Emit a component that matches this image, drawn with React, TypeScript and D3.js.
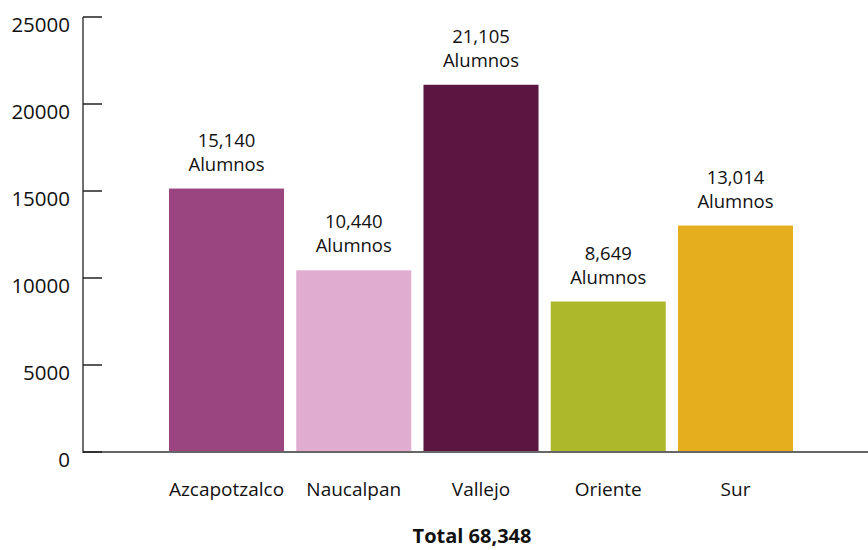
import React from "react";
import * as d3 from "d3";

const categories = ["Azcapotzalco", "Naucalpan", "Vallejo", "Oriente", "Sur"];
const values = [15140, 10440, 21105, 8649, 13014];
const colors = ["#9B4580", "#E0ADD0", "#5A1641", "#ADB92B", "#E4AE1E"];
const yTicks = [0, 5000, 10000, 15000, 20000, 25000];
const valueUnit = "Alumnos";
const totalLabel = "Total 68,348";

const W = 868;
const H = 550;
const FONT = "'Open Sans', 'Noto Sans', sans-serif";

export default function App() {
  const axisX = 83;
  const y = d3.scaleLinear().domain([0, 25000]).range([452, 17]);
  const x = d3
    .scaleBand<string>()
    .domain(categories)
    .range([169, 793])
    .paddingInner(0.096)
    .paddingOuter(0);
  const fmt = d3.format(",");

  return (
    <svg
      width={W}
      height={H}
      style={{ position: "absolute", left: 0, top: 0, background: "#fff" }}
      fontFamily={FONT}
    >
      {categories.map((c, i) => (
        <rect
          key={c}
          x={x(c)}
          y={y(values[i])}
          width={x.bandwidth()}
          height={y(0) - y(values[i])}
          fill={colors[i]}
        />
      ))}
      {categories.map((c, i) => {
        const cx = (x(c) as number) + x.bandwidth() / 2;
        const top = y(values[i]);
        return (
          <g key={c + "-lbl"} fill="#111" fontSize={18.5} textAnchor="middle">
            <text x={cx} y={top - 42}>{fmt(values[i])}</text>
            <text x={cx} y={top - 18}>{valueUnit}</text>
          </g>
        );
      })}
      <line x1={axisX} x2={W} y1={y(0)} y2={y(0)} stroke="#666" strokeWidth={2} />
      <line x1={axisX} x2={axisX} y1={y(25000)} y2={y(0) + 1} stroke="#111" strokeWidth={1.2} />
      {yTicks.map((t) => (
        <g key={t}>
          <line x1={axisX} x2={axisX + 19} y1={y(t)} y2={y(t)} stroke="#222" strokeWidth={1.5} />
          <text x={70} y={y(t) + 15} textAnchor="end" fontSize={20.5} fill="#111">
            {t}
          </text>
        </g>
      ))}
      {categories.map((c) => (
        <text
          key={c + "-cat"}
          x={(x(c) as number) + x.bandwidth() / 2}
          y={496}
          textAnchor="middle"
          fontSize={19}
          fill="#111"
        >
          {c}
        </text>
      ))}
      <text x={472} y={543} textAnchor="middle" fontSize={20} fontWeight="bold" fill="#111">
        {totalLabel}
      </text>
    </svg>
  );
}
